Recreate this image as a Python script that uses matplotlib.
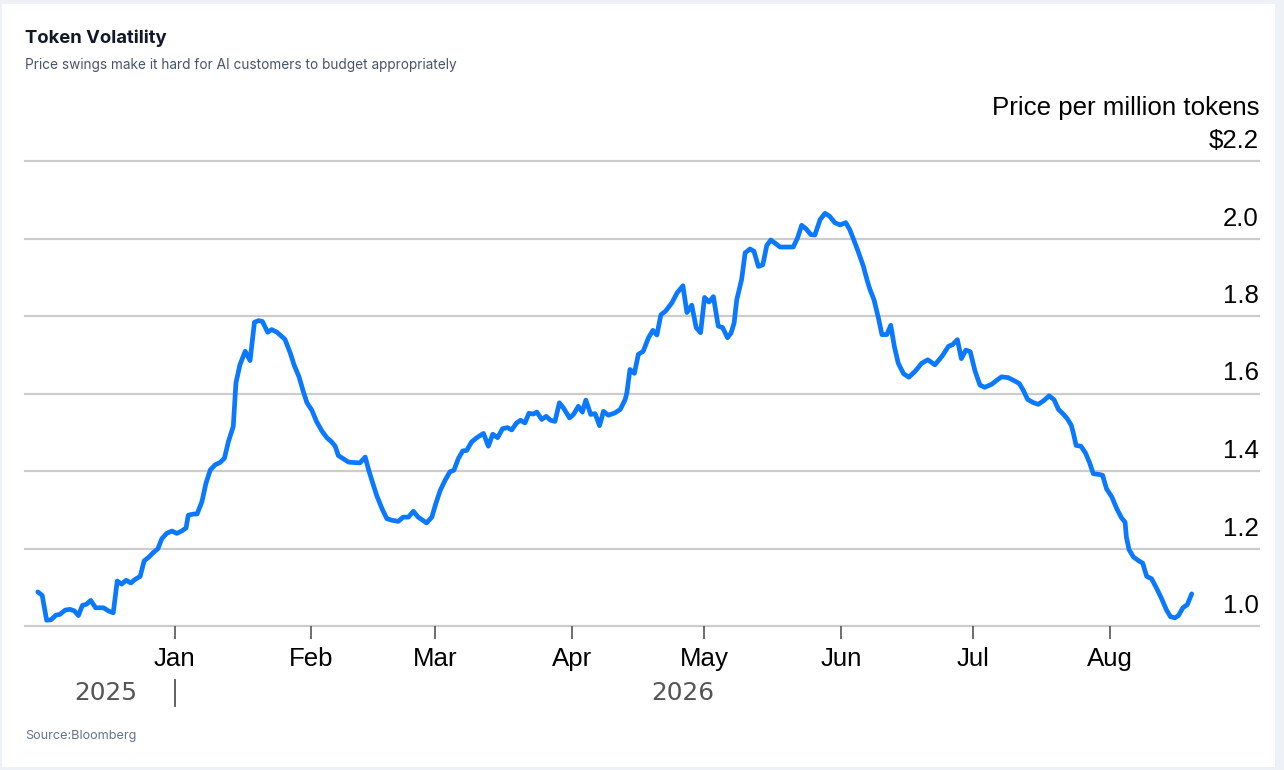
from datetime import datetime, timedelta

import matplotlib
import matplotlib.dates as mdates
import matplotlib.pyplot as plt
import matplotlib.transforms as mtransforms
from matplotlib.lines import Line2D
from matplotlib.patches import Rectangle

matplotlib.use("Agg")

START = datetime(2025, 12, 1)
YEAR_SPLIT = datetime(2026, 1, 1)

# days after START and price ($ per million tokens)
day_offsets = [
    0.0, 1.0, 2.0, 3.0, 4.1, 5.0, 6.2, 7.3, 8.3, 9.2, 10.1, 11.0, 12.0, 13.1,
    14.9, 16.0, 17.1, 18.0, 19.0, 20.0, 21.1, 22.0, 23.2, 24.1, 25.2, 26.2,
    27.2, 28.1, 29.2, 30.4, 31.5, 32.6, 33.6, 34.1, 35.3, 36.1, 37.2, 38.1,
    39.1, 40.2, 41.3, 42.3, 43.2, 44.3, 44.9, 45.8, 47.0, 48.1, 49.1, 50.0,
    50.9, 52.1, 53.0, 54.2, 56.0, 57.2, 58.1, 59.2, 60.2, 61.0, 62.1, 63.2,
    64.4, 65.5, 66.6, 67.4, 68.1, 69.2, 70.4, 71.5, 73.0, 74.2, 74.9, 75.7,
    76.8, 78.0, 79.1, 80.2, 81.7, 82.8, 84.0, 85.1, 86.2, 88.1, 89.3, 90.2,
    91.2, 92.3, 93.4, 94.3, 95.3, 96.3, 97.2, 98.3, 99.5, 101.0, 102.1, 103.1,
    104.2, 105.3, 106.4, 107.4, 108.5, 109.4, 110.4, 111.3, 112.3, 113.1,
    114.2, 115.2, 116.2, 117.2, 118.2, 119.1, 120.5, 121.4, 122.5, 123.4,
    124.2, 125.3, 126.3, 127.3, 128.2, 129.3, 130.8, 132.0, 133.1, 133.5,
    134.2, 135.2, 136.1, 137.2, 138.4, 139.4, 140.3, 141.2, 142.3, 143.7,
    144.9, 146.2, 147.1, 148.2, 149.2, 150.2, 151.1, 152.1, 153.1, 154.2,
    155.2, 156.3, 157.1, 157.8, 158.4, 159.5, 160.3, 161.4, 162.3, 163.3,
    164.3, 165.2, 166.1, 167.2, 168.2, 169.7, 171.2, 172.2, 173.1, 174.1,
    175.2, 176.1, 177.3, 178.4, 179.4, 180.6, 181.8, 183.1, 184.0, 184.9,
    185.9, 187.1, 188.0, 188.6, 189.5, 190.5, 191.3, 192.4, 193.3, 194.1,
    195.0, 196.2, 197.4, 198.8, 200.3, 201.7, 203.3, 204.9, 206.4, 207.3,
    208.4, 209.3, 210.3, 211.3, 212.4, 213.5, 214.6, 216.2, 217.3, 218.4,
    219.9, 221.1, 222.4, 223.3, 224.3, 225.5, 226.7, 227.9, 229.2, 230.3,
    231.3, 232.3, 233.3, 234.2, 234.7, 235.3, 236.4, 237.4, 238.3, 239.2,
    240.6, 241.3, 242.2, 243.4, 244.5, 245.6, 246.4, 246.7, 247.3, 248.3,
    249.4, 250.4, 251.3, 252.4, 253.6, 254.7, 255.8, 256.7, 257.7, 258.5,
    259.5, 260.5, 261.5,
]
prices = [
    1.088, 1.079, 1.015, 1.016, 1.028, 1.030, 1.041, 1.043, 1.039, 1.027,
    1.053, 1.056, 1.066, 1.047, 1.047, 1.039, 1.034, 1.116, 1.108, 1.118,
    1.111, 1.120, 1.128, 1.168, 1.178, 1.190, 1.199, 1.225, 1.239, 1.245,
    1.239, 1.245, 1.253, 1.286, 1.289, 1.289, 1.321, 1.368, 1.403, 1.416,
    1.422, 1.433, 1.476, 1.515, 1.627, 1.674, 1.709, 1.685, 1.784, 1.788,
    1.786, 1.758, 1.765, 1.758, 1.740, 1.705, 1.673, 1.643, 1.604, 1.576,
    1.557, 1.527, 1.503, 1.486, 1.475, 1.464, 1.440, 1.432, 1.423, 1.422,
    1.421, 1.436, 1.406, 1.376, 1.337, 1.303, 1.277, 1.273, 1.270, 1.281,
    1.281, 1.296, 1.281, 1.266, 1.281, 1.316, 1.350, 1.376, 1.398, 1.402,
    1.432, 1.452, 1.453, 1.475, 1.486, 1.497, 1.464, 1.495, 1.486, 1.509,
    1.512, 1.506, 1.524, 1.531, 1.524, 1.549, 1.547, 1.552, 1.533, 1.541,
    1.531, 1.528, 1.576, 1.563, 1.537, 1.546, 1.567, 1.552, 1.583, 1.546,
    1.548, 1.517, 1.554, 1.544, 1.550, 1.559, 1.584, 1.602, 1.662, 1.652,
    1.701, 1.709, 1.744, 1.763, 1.751, 1.803, 1.813, 1.834, 1.860, 1.878,
    1.809, 1.828, 1.770, 1.757, 1.848, 1.836, 1.850, 1.774, 1.770, 1.744,
    1.756, 1.782, 1.842, 1.894, 1.963, 1.973, 1.967, 1.928, 1.932, 1.982,
    1.996, 1.987, 1.978, 1.978, 1.978, 2.002, 2.034, 2.025, 2.010, 2.009,
    2.049, 2.065, 2.058, 2.041, 2.035, 2.041, 2.023, 1.997, 1.967, 1.928,
    1.890, 1.868, 1.842, 1.795, 1.752, 1.752, 1.776, 1.722, 1.678, 1.651,
    1.642, 1.657, 1.678, 1.687, 1.674, 1.696, 1.722, 1.726, 1.739, 1.690,
    1.712, 1.708, 1.658, 1.622, 1.616, 1.624, 1.634, 1.643, 1.641, 1.634,
    1.626, 1.609, 1.585, 1.577, 1.572, 1.581, 1.594, 1.584, 1.559, 1.548,
    1.535, 1.518, 1.497, 1.466, 1.464, 1.447, 1.423, 1.393, 1.391, 1.389,
    1.354, 1.333, 1.303, 1.279, 1.268, 1.229, 1.197, 1.178, 1.169, 1.162,
    1.128, 1.122, 1.096, 1.070, 1.041, 1.024, 1.021, 1.027, 1.047, 1.055,
    1.083,
]

y_ticks = [1.0, 1.2, 1.4, 1.6, 1.8, 2.0, 2.2]
y_labels = ["1.0", "1.2", "1.4", "1.6", "1.8", "2.0", "$2.2"]
year_labels = ["2025", "2026"]

plt.rcParams["font.family"] = ["Liberation Sans", "DejaVu Sans"]

W, H = 1284, 770
fig = plt.figure(figsize=(W / 100, H / 100), dpi=100, facecolor="#eef2f6")
fig.patches.append(Rectangle((2 / W, 1 - 767 / H), 1273 / W, 763 / H,
                             transform=fig.transFigure, facecolor="white",
                             edgecolor="none", zorder=-10))

ax = fig.add_axes([25 / W, 1 - 626 / H, 1234 / W, 465 / H])
ax.set_facecolor("none")
ax.set_zorder(5)

dates = [START + timedelta(days=d) for d in day_offsets]
x = mdates.date2num(dates)
ax.plot(x, prices, color="#0a78ff", lw=3.4, solid_joinstyle="round",
        solid_capstyle="round", zorder=3, clip_on=False)

ax.set_ylim(1.0, 2.2)
ax.set_xlim(mdates.date2num(START - timedelta(days=2.9)),
            mdates.date2num(START + timedelta(days=276.75)))

for v in y_ticks:
    ax.axhline(v, color="#cccccc", lw=1.6, zorder=1, clip_on=False)

for s in ax.spines.values():
    s.set_visible(False)
ax.set_yticks([])

ax.xaxis.set_major_locator(mdates.MonthLocator(bymonth=range(1, 9)))
ax.xaxis.set_major_formatter(mdates.DateFormatter("%b"))
ax.tick_params(axis="x", length=9.4, width=1.2, color="#555555", pad=5.5,
               labelsize=18.6, labelcolor="black")

# value labels sit just above their gridlines, right aligned
lab_tr = mtransforms.offset_copy(ax.get_yaxis_transform(), fig=fig, y=13, units="dots")
for v, lab in zip(y_ticks, y_labels):
    ax.text(1.0, v, lab, transform=lab_tr, ha="right", va="baseline", fontsize=18.6)
head_tr = mtransforms.offset_copy(ax.get_yaxis_transform(), fig=fig, y=45.5, units="dots")
ax.text(1.0, 2.2, "Price per million tokens", transform=head_tr, ha="right",
        va="baseline", fontsize=18.6)

# year row
blend = mtransforms.blended_transform_factory(ax.transData, fig.transFigure)
split = mdates.date2num(YEAR_SPLIT)
fig.add_artist(Line2D([split, split], [1 - 680 / H, 1 - 706 / H], transform=blend,
                      color="#555555", lw=1.3))
year_mid = [(mdates.date2num(START) + split) / 2, (split + x[-1]) / 2]
for xm, lab in zip(year_mid, year_labels):
    ax.text(xm, 1 - 700 / H, lab, transform=blend, ha="center", va="baseline",
            family="DejaVu Sans", fontsize=17.8, color="#555555")

fig.text(25 / W, 1 - 43 / H, "Token Volatility", family="Inter", weight="bold",
         fontsize=13.3, color="#111827", va="baseline")
fig.text(25 / W, 1 - 69 / H,
         "Price swings make it hard for AI customers to budget appropriately",
         family="Inter", fontsize=9.8, color="#475569", va="baseline")
fig.text(25 / W, 1 - 739 / H, "Source:Bloomberg", family="Inter", fontsize=9.1,
         color="#64748b", va="baseline")

fig.savefig("out.png", dpi=100, facecolor=fig.get_facecolor())
